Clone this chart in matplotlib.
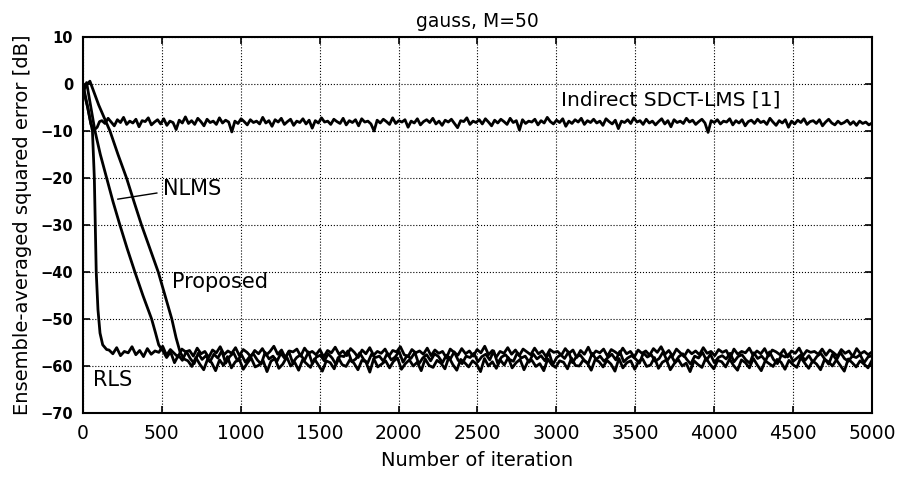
import matplotlib
matplotlib.use("Agg")
import matplotlib.pyplot as plt
import numpy as np

# ---- data (iteration, dB) ----
# transient parts
rls_n    = [0, 30, 60, 72, 78, 84, 95, 108, 125, 150]
rls_head = [-1, -5, -10, -20, -30, -40, -48, -53, -55.5, -56.5]

nlms_n    = [0, 23, 50, 76, 110, 150, 190, 234, 280, 329, 380, 435, 460, 480, 510]
nlms_head = [-2, 0.3, -5, -10, -15, -20, -25, -30, -35, -40, -45, -50, -53, -55.5, -57]

prop_n    = [0, 44, 100, 171, 222, 276, 323, 371, 424, 477, 520, 563, 590, 615, 640]
prop_head = [-1, 0.6, -4.5, -10, -15, -20, -25, -30, -35, -40, -45, -50, -54, -57, -58.5]

sdct_n    = [0, 15, 30, 50, 70, 90, 105]
sdct_head = [0, -2.5, -5, -8.5, -9.8, -9.2, -8.0]

# steady-state parts (evenly spaced iterations between the given limits)
sdct_floor = [
    -7.8, -8.4, -7.3, -8.1, -8.9, -7.6, -8.2, -7.1, -8.6, -7.9,
    -8.3, -7.5, -9.1, -7.8, -8.0, -7.2, -8.7, -8.1, -7.6, -8.5,
    -7.4, -8.8, -7.9, -8.2, -9.7, -7.7, -8.3, -7.0, -8.4, -7.8,
    -8.6, -7.3, -8.0, -8.9, -7.5, -8.2, -7.9, -8.6, -7.2, -8.3,
    -7.7, -8.1, -10.2, -7.9, -8.4, -7.4, -8.0, -8.7, -7.6, -8.2,
    -7.9, -8.5, -7.1, -8.3, -7.8, -9.0, -7.6, -8.1, -7.3, -8.6,
    -8.0, -7.5, -8.8, -7.9, -8.2, -7.4, -8.5, -7.7, -9.4, -7.8,
    -8.3, -7.2, -8.1, -7.9, -8.6, -7.5, -8.0, -8.4, -7.3, -8.7,
    -7.8, -8.2, -7.6, -8.9, -7.4, -8.1, -7.9, -8.5, -10.0, -7.7,
    -8.3, -7.5, -8.0, -8.6, -7.2, -8.4, -7.8, -8.1, -7.6, -9.2,
    -7.9, -8.3, -7.4, -8.7, -8.0, -7.6, -8.2, -7.3, -8.5, -7.9,
    -8.8, -7.7, -8.1, -7.5, -8.4, -9.3, -7.8, -8.0, -7.2, -8.6,
    -7.9, -8.2, -7.6, -8.5, -7.4, -8.1, -8.9, -7.7, -8.3, -7.5,
    -8.0, -8.6, -7.3, -8.2, -7.8, -9.8, -7.6, -8.4, -7.9, -8.1,
    -7.5, -8.7, -7.8, -8.3, -7.1, -8.0, -8.5, -7.7, -8.2, -7.4,
    -9.0, -7.9, -8.4, -7.6, -8.1, -7.3, -8.6, -7.8, -8.2, -7.5,
    -8.3, -7.9, -8.8, -7.4, -8.0, -8.5, -7.7, -9.5, -7.9, -8.2,
    -7.6, -8.4, -7.2, -8.1, -7.8, -8.6, -7.5, -8.3, -7.9, -8.7,
    -8.0, -7.4, -8.5, -7.8, -9.1, -7.6, -8.2, -7.9, -8.4, -7.3,
    -8.1, -7.7, -8.6, -8.0, -7.5, -8.3, -10.3, -7.8, -8.2, -7.6,
    -8.5, -7.9, -8.1, -7.4, -8.7, -7.8, -8.3, -7.6, -8.9, -8.0,
    -7.7, -8.4, -7.5, -8.2, -7.9, -8.6, -7.3, -8.1, -8.8, -7.8,
    -8.3, -7.6, -9.2, -7.9, -8.5, -7.7, -8.2, -7.4, -8.6, -8.0,
    -7.8, -8.4, -7.6, -8.9, -8.1, -7.5, -8.3, -8.7, -7.9, -8.5,
    -8.2, -7.7, -8.6, -8.0, -8.8, -7.9, -8.4, -8.1, -8.7, -8.3]
sdct_floor_span = (120, 5000)

rls_floor = [
    -56.6, -57.4, -56.1, -57.8, -56.9, -57.2, -55.9, -57.6, -56.7, -58.0,
    -56.3, -57.5, -56.8, -57.1, -55.8, -57.7, -56.5, -57.3, -58.1, -56.4,
    -57.0, -56.7, -57.9, -56.2, -57.4, -56.9, -58.2, -56.6, -57.2, -55.9,
    -57.6, -56.8, -57.3, -56.1, -57.8, -56.5, -57.1, -58.0, -56.7, -57.4,
    -56.3, -57.7, -56.9, -55.8, -57.5, -56.6, -58.3, -56.8, -57.0, -56.4,
    -57.9, -56.2, -57.3, -56.9, -57.6, -56.5, -58.1, -56.7, -57.2, -56.0,
    -57.5, -56.8, -57.8, -56.3, -57.1, -58.2, -56.6, -57.4, -56.1, -57.7,
    -56.9, -57.3, -56.4, -57.9, -56.7, -57.0, -55.9, -57.6, -58.0, -56.5,
    -57.2, -56.8, -57.5, -56.2, -57.8, -56.6, -57.3, -56.9, -58.3, -56.4,
    -57.1, -57.7, -56.3, -57.4, -56.8, -57.9, -56.5, -57.2, -55.8, -57.6,
    -56.7, -58.1, -56.9, -57.3, -56.1, -57.5, -56.6, -57.8, -56.4, -57.0,
    -57.6, -56.2, -57.4, -56.8, -58.0, -56.5, -57.1, -56.9, -57.7, -56.3,
    -57.3, -56.6, -58.2, -56.7, -57.5, -56.0, -57.8, -56.8, -57.2, -56.4,
    -57.9, -56.5, -57.0, -57.6, -56.2, -57.4, -56.9, -58.1, -56.6, -57.3,
    -56.8, -57.7, -56.3, -57.1, -55.9, -57.5, -56.7, -57.9, -56.4, -57.2,
    -58.0, -56.6, -57.4, -56.8, -57.6, -56.1, -57.3, -56.9, -57.8, -56.5,
    -57.1, -56.7, -58.3, -56.4, -57.5, -56.9, -57.2, -56.2, -57.7, -56.8,
    -57.4, -56.3, -57.9, -56.6, -57.0, -57.6, -56.5, -58.1, -56.8, -57.3,
    -56.2, -57.8, -56.7, -57.1, -56.9, -57.5, -56.4, -57.7, -56.6, -57.2,
    -57.9, -56.5, -57.3, -56.8, -58.0, -56.3, -57.4, -56.9, -57.6, -57.0]
rls_floor_span = (165, 5000)

nlms_floor = [
    -58.2, -57.0, -59.3, -57.7, -58.8, -56.9, -58.4, -59.5, -57.3, -58.6,
    -57.8, -59.1, -57.5, -58.3, -56.8, -59.4, -58.0, -57.2, -58.9, -57.6,
    -59.2, -58.1, -57.4, -58.7, -59.6, -57.1, -58.5, -57.9, -59.0, -57.3,
    -58.4, -56.9, -59.3, -58.2, -57.6, -58.8, -57.0, -59.5, -58.1, -57.7,
    -58.9, -57.4, -58.3, -59.7, -57.8, -58.0, -56.8, -59.1, -58.5, -57.2,
    -58.6, -59.4, -57.5, -58.2, -57.9, -59.0, -57.3, -58.7, -58.1, -56.9,
    -59.2, -57.8, -58.4, -57.1, -59.6, -58.3, -57.6, -58.9, -57.4, -58.0,
    -59.3, -57.7, -58.5, -57.0, -58.8, -59.5, -57.9, -58.2, -57.3, -59.1,
    -58.0, -57.5, -58.7, -56.8, -59.4, -58.1, -57.6, -58.6, -59.0, -57.2,
    -58.3, -57.9, -59.2, -57.4, -58.5, -57.8, -58.9, -57.1, -59.7, -58.2,
    -57.6, -58.4, -57.0, -59.3, -58.0, -57.7, -58.8, -59.5, -57.3, -58.6,
    -57.9, -59.0, -58.2, -57.5, -58.7, -56.9, -59.1, -58.3, -57.8, -58.5,
    -59.4, -57.2, -58.1, -57.6, -59.0, -58.4, -57.0, -58.9, -57.7, -59.2,
    -58.0, -57.4, -58.6, -59.6, -57.9, -58.3, -57.1, -58.8, -57.5, -59.3,
    -58.2, -57.8, -58.5, -57.3, -59.1, -58.0, -57.6, -58.7, -59.4, -57.2,
    -58.4, -57.9, -58.9, -57.0, -58.6, -59.5, -57.7, -58.1, -57.4, -59.0,
    -58.3, -57.6, -58.8, -57.8, -59.2, -58.0, -57.3, -58.5, -59.6, -57.5,
    -58.7, -57.1, -58.4, -59.0, -57.9, -58.2, -57.6, -59.3, -58.1, -57.8]
nlms_floor_span = (530, 5000)

prop_floor = [
    -58.9, -60.1, -58.2, -59.6, -60.8, -58.5, -59.3, -61.0, -58.7, -59.9,
    -58.0, -60.4, -59.1, -58.6, -60.7, -59.4, -58.3, -60.2, -59.8, -58.8,
    -61.2, -59.0, -58.4, -60.5, -59.6, -58.1, -60.0, -59.2, -60.9, -58.7,
    -59.5, -60.3, -58.5, -59.8, -61.1, -58.9, -59.3, -60.6, -58.2, -59.7,
    -60.1, -58.6, -59.4, -60.8, -58.8, -59.1, -61.3, -58.4, -60.2, -59.6,
    -58.9, -60.4, -59.0, -58.3, -60.7, -59.5, -58.7, -60.0, -59.2, -61.0,
    -58.5, -59.9, -60.3, -58.8, -59.4, -60.6, -58.1, -59.7, -60.9, -58.6,
    -59.3, -60.2, -58.9, -59.6, -61.2, -58.4, -60.0, -59.1, -60.5, -58.7,
    -59.8, -58.2, -60.4, -59.3, -58.6, -60.8, -59.0, -58.8, -60.1, -59.5,
    -61.0, -58.5, -59.7, -60.3, -58.9, -59.2, -60.6, -58.3, -59.9, -60.0,
    -58.7, -59.4, -60.9, -58.6, -59.1, -60.2, -58.8, -59.6, -61.1, -58.4,
    -60.4, -59.3, -58.9, -60.7, -59.0, -58.5, -60.1, -59.8, -58.2, -60.5,
    -59.2, -58.7, -60.8, -59.5, -58.6, -60.0, -59.4, -61.2, -58.9, -59.7,
    -60.3, -58.3, -59.6, -60.6, -58.8, -59.1, -60.2, -58.5, -59.9, -60.9,
    -58.7, -59.3, -60.4, -58.4, -59.8, -61.0, -58.9, -59.5, -60.1, -58.6,
    -59.2, -60.7, -58.8, -59.7, -60.3, -58.2, -59.4, -60.5, -58.9, -59.6,
    -60.8, -58.6, -59.1, -60.0, -58.7, -59.9, -61.1, -58.5, -59.3, -60.2,
    -58.9, -59.6, -60.4, -58.8]
prop_floor_span = (665, 5000)

xticks = [0, 500, 1000, 1500, 2000, 2500, 3000, 3500, 4000, 4500, 5000]
yticks = [-70, -60, -50, -40, -30, -20, -10, 0, 10]


def series(head_n, head_v, floor_v, span):
    fn = np.linspace(span[0], span[1], len(floor_v))
    return np.r_[head_n, fn], np.r_[head_v, floor_v]


fig = plt.figure(figsize=(8.97, 4.78), dpi=100)
ax = fig.add_axes([0.0925, 0.136, 0.8796, 0.7866])

for hn, hv, fv, sp in [(sdct_n, sdct_head, sdct_floor, sdct_floor_span),
                       (prop_n, prop_head, prop_floor, prop_floor_span),
                       (nlms_n, nlms_head, nlms_floor, nlms_floor_span),
                       (rls_n, rls_head, rls_floor, rls_floor_span)]:
    x, y = series(hn, hv, fv, sp)
    ax.plot(x, y, color='k', lw=2.0)

ax.set_xlim(0, 5000)
ax.set_ylim(-70, 10)
ax.set_xticks(xticks)
ax.set_yticks(yticks)
ax.grid(True, color='k', linestyle=':', linewidth=0.8)
ax.tick_params(direction='in', top=True, right=True, length=5, width=1.2)
ax.tick_params(axis='x', labelsize=13.5, pad=8)
ax.tick_params(axis='y', labelsize=10.5, pad=7)
for lab in ax.get_yticklabels():
    lab.set_fontweight('bold')
for s in ax.spines.values():
    s.set_linewidth(1.5)

ax.set_xlabel("Number of iteration", fontsize=14, labelpad=6)
ax.set_ylabel("Ensemble-averaged squared error [dB]", fontsize=14, labelpad=6)
ax.set_title("gauss, M=50", fontsize=13.5, pad=7)

ax.text(3032, -3.4, "Indirect SDCT-LMS [1]", fontsize=14.5, va='center', ha='left')
ax.text(506, -22.4, "NLMS", fontsize=15, va='center', ha='left')
ax.text(563, -42.2, "Proposed", fontsize=15, va='center', ha='left')
ax.text(63, -62.9, "RLS", fontsize=15, va='center', ha='left')
ax.plot([468, 221], [-23.2, -24.5], color='k', lw=1.0)

fig.savefig("out.png", dpi=100)
